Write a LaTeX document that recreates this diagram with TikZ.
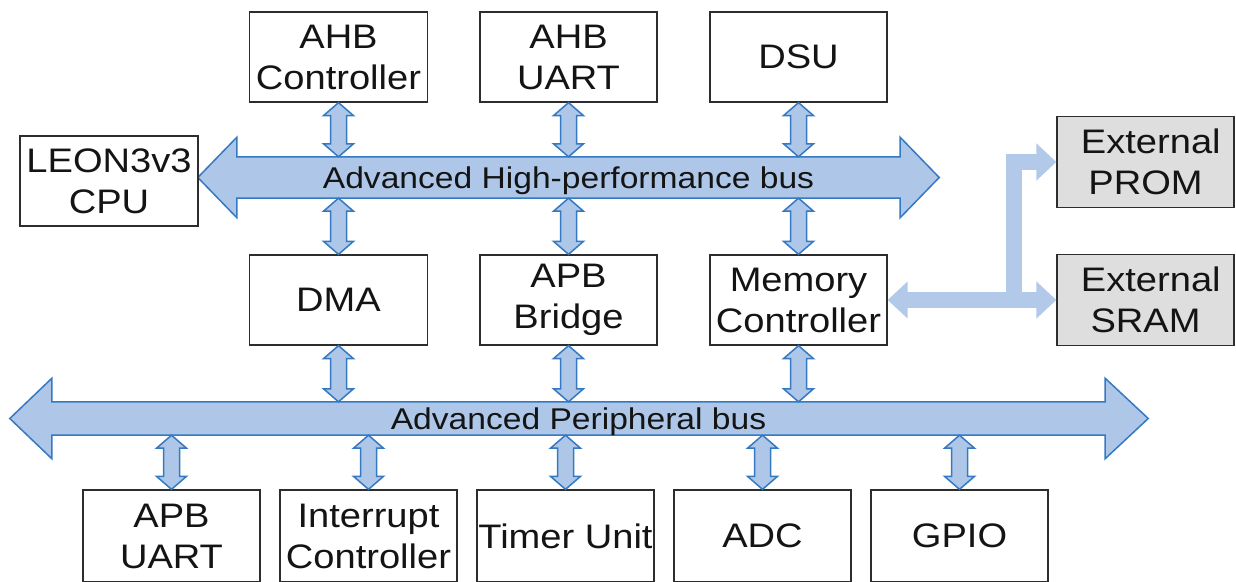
\documentclass[tikz,border=0pt]{standalone}
\usepackage{fontspec}
\setmainfont{Liberation Sans}
\usepackage{graphicx}
\usetikzlibrary{arrows.meta,calc,backgrounds}

\definecolor{busfill}{RGB}{174,199,232}
\definecolor{busline}{RGB}{52,121,193}
\definecolor{extlink}{RGB}{178,201,233}
\definecolor{romfill}{RGB}{222,222,222}
\definecolor{frame}{RGB}{45,45,45}
\definecolor{ink}{RGB}{20,20,20}

% slightly widened lettering
\newcommand\sx[1]{\scalebox{1.12}[1]{#1}}

% vertical double-headed block arrow between an upper and a lower point
\newcommand\vlink[2]{%
  \draw[link] let \p1=#1, \p2=#2 in
    (\x1,\y1) -- (\x1+15pt,\y1-13pt) -- (\x1+8pt,\y1-13pt) -- (\x1+8pt,\y2+13pt)
    -- (\x1+15pt,\y2+13pt) -- (\x1,\y2) -- (\x1-15pt,\y2+13pt) -- (\x1-8pt,\y2+13pt)
    -- (\x1-8pt,\y1-13pt) -- (\x1-15pt,\y1-13pt) -- cycle;}

\tikzset{
  block/.style={draw=frame, line width=1.3pt, fill=white, text=ink,
    minimum width=178pt, minimum height=90pt, inner sep=0pt, align=center,
    font=\fontsize{34}{41}\selectfont},
  extmem/.style={block, fill=romfill},
  busshaft/.style={inner sep=0pt, text=ink, text height=21.5pt, text depth=0pt,
    font=\fontsize{30}{34}\selectfont},
  link/.style={draw=busline, fill=busfill, line width=1.5pt, line join=miter},
  extc/.style={draw=extlink, line width=16pt,
    arrows={-Triangle[width=36pt,length=20pt]}},
}

\begin{document}
\begin{tikzpicture}[x=1pt,y=1pt]
\useasboundingbox (0,0) rectangle (1236,581);

% AHB masters / slaves
\node[block] (ahbc) at (338.5,524) {\sx{AHB}\\\sx{Controller}};
\node[block, minimum width=177pt] (ahbu) at (568.5,524) {\sx{AHB}\\\sx{UART}};
\node[block, minimum width=177pt] (dsu)  at (798.5,524) {\sx{DSU}};
\node[block] (cpu)  at (109,400) {\sx{LEON3v3}\\\sx{CPU}};

\node[block] (dma)  at (338.5,281) {\sx{DMA}};
\node[block, minimum width=177pt] (apbb) at (568.5,281) {\sx{APB}\\\sx{Bridge}};
\node[block, minimum width=177pt] (memc) at (798.5,281) {\sx{Memory}\\\sx{Controller}};

\node[extmem, minimum width=177pt, minimum height=91pt] (prom) at (1145.5,419) {\sx{\ External}\\\sx{PROM}};
\node[extmem, minimum width=177pt, minimum height=91pt] (sram) at (1145.5,281) {\sx{\ External}\\\sx{SRAM}};

% APB peripherals
\node[block, minimum width=177pt, minimum height=92pt] (uart) at (171.5,45) {\sx{APB}\\\sx{UART}};
\node[block, minimum width=177pt, minimum height=92pt] (irq)  at (368.5,45) {\sx{Interrupt}\\\sx{Controller}};
\node[block, minimum width=177pt, minimum height=92pt] (tmr)  at (565.5,45) {\sx{Timer Unit}};
\node[block, minimum width=177pt, minimum height=92pt] (adc)  at (762.5,45) {\sx{ADC}};
\node[block, minimum width=177pt, minimum height=92pt] (gpio) at (959.5,45) {\sx{GPIO}};

% bus shafts with their labels
\node[busshaft, minimum width=663pt, minimum height=41pt] (ahb) at (568.5,403.5)
  {\sx{Advanced High-performance bus}};
\node[busshaft, minimum width=1053pt, minimum height=33pt] (apb) at (578.5,162.5)
  {\sx{Advanced Peripheral bus}};

\begin{scope}[on background layer]
  \draw[link] (ahb.north west) -- (ahb.north east) -- ([yshift=19.5pt]ahb.north east)
    -- ([xshift=39pt]ahb.east) -- ([yshift=-19.5pt]ahb.south east) -- (ahb.south east)
    -- (ahb.south west) -- ([yshift=-19.5pt]ahb.south west) -- ([xshift=-39pt]ahb.west)
    -- ([yshift=19.5pt]ahb.north west) -- cycle;
  \draw[link] (apb.north west) -- (apb.north east) -- ([yshift=23.5pt]apb.north east)
    -- ([xshift=43pt]apb.east) -- ([yshift=-23.5pt]apb.south east) -- (apb.south east)
    -- (apb.south west) -- ([yshift=-23.5pt]apb.south west) -- ([xshift=-42pt]apb.west)
    -- ([yshift=23.5pt]apb.north west) -- cycle;
\end{scope}

% AHB connections
\vlink{(ahbc.south)}{(ahbc.south |- ahb.north)}
\vlink{(ahbu.south)}{(ahbu.south |- ahb.north)}
\vlink{(dsu.south)}{(dsu.south |- ahb.north)}
\vlink{(dma.north |- ahb.south)}{(dma.north)}
\vlink{(apbb.north |- ahb.south)}{(apbb.north)}
\vlink{(memc.north |- ahb.south)}{(memc.north)}

% APB connections
\vlink{(dma.south)}{(dma.south |- apb.north)}
\vlink{(apbb.south)}{(apbb.south |- apb.north)}
\vlink{(memc.south)}{(memc.south |- apb.north)}
\foreach \dev in {uart,irq,tmr,adc,gpio}{
  \vlink{(\dev.north |- apb.south)}{(\dev.north)}
}

% external memory interface
\coordinate (split) at ($(memc.east)!0.75!(sram.west)$);
\draw[extc, arrows={Triangle[width=36pt,length=20pt]-Triangle[width=36pt,length=20pt]}]
  (memc.east) -- (sram.west);
\draw[extc] (split) |- (prom.west);
\end{tikzpicture}
\end{document}
